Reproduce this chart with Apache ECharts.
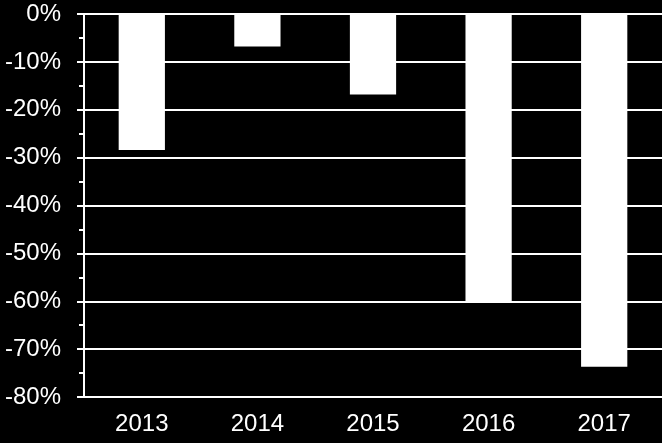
<!DOCTYPE html>
<html>
<head>
<meta charset="utf-8">
<script src="https://cdn.jsdelivr.net/npm/echarts@6/dist/echarts.min.js"></script>
<style>
html,body{margin:0;padding:0;background:#000;}
#chart{width:662px;height:443px;}
</style>
</head>
<body>
<div id="chart"></div>
<script>
const categories = ['2013', '2014', '2015', '2016', '2017'];
const values = [-28.4, -6.8, -16.8, -60.3, -73.7];

const chart = echarts.init(document.getElementById('chart'), null, {renderer: 'canvas'});
chart.setOption({
  backgroundColor: '#000000',
  animation: false,
  grid: {left: 84, right: 0, top: 14, bottom: 46, containLabel: false},
  xAxis: {
    type: 'category',
    data: categories,
    position: 'bottom',
    axisLine: {show: false, onZero: false},
    axisTick: {show: false},
    axisLabel: {color: '#ffffff', fontFamily: 'Liberation Sans, Arial, sans-serif', fontSize: 24, margin: 15}
  },
  yAxis: {
    type: 'value',
    min: -80,
    max: 0,
    interval: 10,
    axisLine: {show: true, lineStyle: {color: '#ffffff', width: 2}},
    axisTick: {show: true, length: 7, lineStyle: {color: '#ffffff', width: 2}},
    minorTick: {show: true, splitNumber: 2, length: 5, lineStyle: {color: '#ffffff', width: 2}},
    splitLine: {show: true, lineStyle: {color: '#ffffff', width: 2}},
    axisLabel: {color: '#ffffff', fontFamily: 'Liberation Sans, Arial, sans-serif', fontSize: 24, margin: 23,
      formatter: v => v + '%'}
  },
  series: [{
    type: 'bar',
    data: values,
    barWidth: '40%',
    itemStyle: {color: '#ffffff'}
  }]
});
</script>
</body>
</html>
